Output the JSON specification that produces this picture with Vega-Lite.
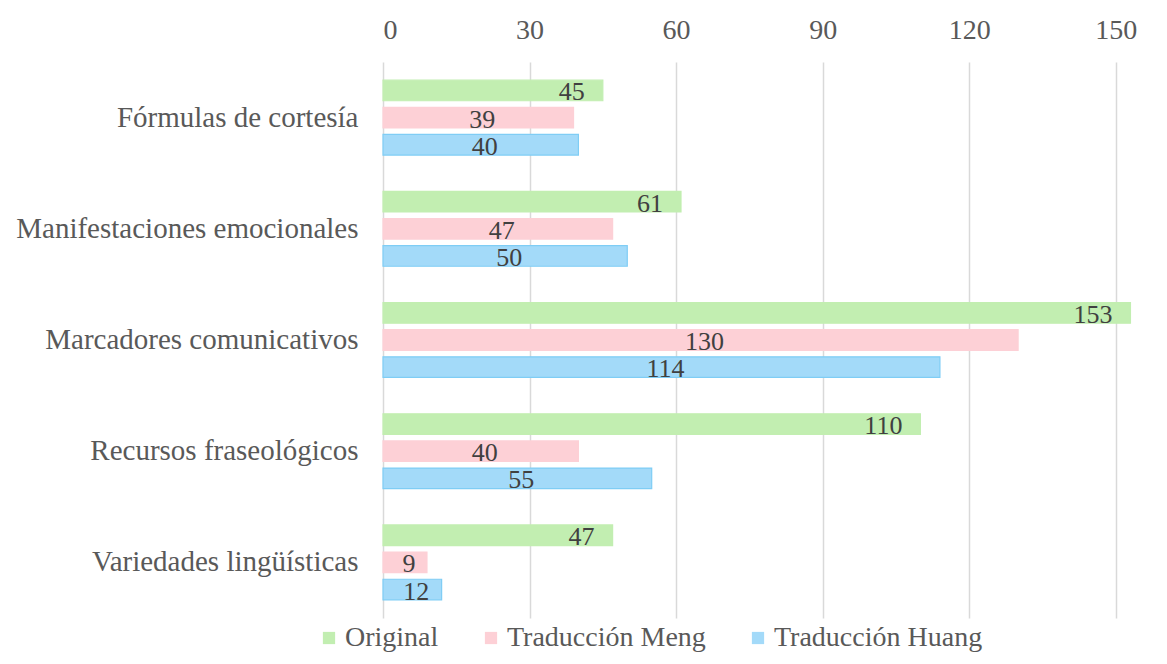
{
  "$schema": "https://vega.github.io/schema/vega-lite/v6.json",
  "width": 767,
  "height": 556,
  "autosize": "none",
  "padding": {"left": 383, "top": 62, "right": 17, "bottom": 46},
  "background": "white",
  "config": {
    "font": "Liberation Serif",
    "view": {"stroke": null}
  },
  "data": {
    "values": [
      {"cat": "Fórmulas de cortesía", "serie": "Original", "v": 45},
      {"cat": "Fórmulas de cortesía", "serie": "Traducción Meng", "v": 39},
      {"cat": "Fórmulas de cortesía", "serie": "Traducción Huang", "v": 40},
      {"cat": "Manifestaciones emocionales", "serie": "Original", "v": 61},
      {"cat": "Manifestaciones emocionales", "serie": "Traducción Meng", "v": 47},
      {"cat": "Manifestaciones emocionales", "serie": "Traducción Huang", "v": 50},
      {"cat": "Marcadores comunicativos", "serie": "Original", "v": 153},
      {"cat": "Marcadores comunicativos", "serie": "Traducción Meng", "v": 130},
      {"cat": "Marcadores comunicativos", "serie": "Traducción Huang", "v": 114},
      {"cat": "Recursos fraseológicos", "serie": "Original", "v": 110},
      {"cat": "Recursos fraseológicos", "serie": "Traducción Meng", "v": 40},
      {"cat": "Recursos fraseológicos", "serie": "Traducción Huang", "v": 55},
      {"cat": "Variedades lingüísticas", "serie": "Original", "v": 47},
      {"cat": "Variedades lingüísticas", "serie": "Traducción Meng", "v": 9},
      {"cat": "Variedades lingüísticas", "serie": "Traducción Huang", "v": 12}
    ]
  },
  "encoding": {
    "y": {
      "field": "cat", "type": "nominal", "sort": null,
      "scale": {"paddingInner": 0.326, "paddingOuter": 0.163},
      "axis": {"title": null, "domain": false, "ticks": false, "labelFontSize": 29, "labelColor": "#595959", "labelPadding": 25, "labelLimit": 400, "labelFont": "Liberation Serif"}
    },
    "yOffset": {
      "field": "serie", "type": "nominal", "sort": ["Original", "Traducción Meng", "Traducción Huang"],
      "scale": {"paddingInner": 0.24, "paddingOuter": 0}
    }
  },
  "layer": [
    {
      "mark": {"type": "bar", "strokeWidth": 1.2},
      "encoding": {
        "x": {
          "field": "v", "type": "quantitative",
          "scale": {"domain": [0, 157], "nice": false},
          "axis": {"orient": "top", "title": null, "values": [0, 30, 60, 90, 120, 150], "domain": false, "ticks": false, "grid": true, "gridColor": "#d9d9d9", "gridWidth": 1.5, "labelFontSize": 28, "labelColor": "#595959", "labelPadding": 18, "labelFont": "Liberation Serif"}
        },
        "color": {
          "field": "serie", "type": "nominal", "sort": ["Original", "Traducción Meng", "Traducción Huang"],
          "scale": {"domain": ["Original", "Traducción Meng", "Traducción Huang"], "range": ["#c2eeb1", "#fdd0d6", "#a3daf9"]},
          "legend": {"title": null, "orient": "none", "direction": "horizontal", "legendX": -68, "legendY": 562, "symbolType": "square", "symbolSize": 150, "symbolStrokeWidth": 0, "labelFontSize": 28, "labelColor": "#595959", "labelFont": "Liberation Serif", "labelLimit": 400, "columnPadding": 38, "labelOffset": 2, "symbolOpacity": 1}
        },
        "stroke": {
          "field": "serie", "type": "nominal",
          "scale": {"domain": ["Original", "Traducción Meng", "Traducción Huang"], "range": ["#c2eeb1", "#fdd0d6", "#7fcdf5"]},
          "legend": null
        }
      }
    },
    {
      "transform": [{"filter": "datum.serie === 'Original'"}],
      "mark": {"type": "text", "align": "right", "baseline": "middle", "dx": -18, "dy": 2, "fontSize": 26, "color": "#404040"},
      "encoding": {
        "x": {"field": "v", "type": "quantitative"},
        "text": {"field": "v", "type": "quantitative"}
      }
    },
    {
      "transform": [
        {"filter": "datum.serie !== 'Original'"},
        {"calculate": "datum.v / 2", "as": "mid"}
      ],
      "mark": {"type": "text", "align": "center", "baseline": "middle", "dx": 4, "dy": 2, "fontSize": 26, "color": "#404040"},
      "encoding": {
        "x": {"field": "mid", "type": "quantitative"},
        "text": {"field": "v", "type": "quantitative"}
      }
    }
  ]
}
